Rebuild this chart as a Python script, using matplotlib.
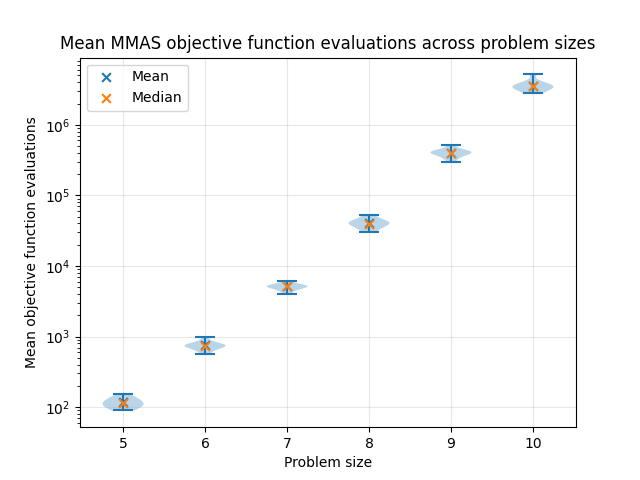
import matplotlib
matplotlib.use("Agg")
import matplotlib.pyplot as plt

sizes = [5, 6, 7, 8, 9, 10]

runs_5 = [90, 95, 100, 104, 108, 112, 116, 120, 125, 130, 136, 143, 153]
runs_6 = [574, 660, 700, 720, 735, 745, 755, 770, 800, 850, 980]
runs_7 = [3945, 4500, 4800, 5000, 5100, 5150, 5200, 5250, 5350, 5600, 6220]
runs_8 = [30300, 34000, 36500, 38500, 40000, 40500, 41500, 43000, 45000, 48000, 52400]
runs_9 = [293000, 350000, 380000, 395000, 403000, 408000, 415000, 425000, 445000, 515000]
runs_10 = [2.79e6, 3.1e6, 3.3e6, 3.4e6, 3.45e6, 3.5e6, 3.6e6, 3.8e6, 4.1e6, 5.17e6]

means = [117, 750, 5120, 40200, 395000, 3.55e6]
medians = [116, 745, 5120, 39900, 393000, 3.5e6]

data = [runs_5, runs_6, runs_7, runs_8, runs_9, runs_10]

fig, ax = plt.subplots(figsize=(6.4, 4.8), dpi=100)

ax.violinplot(data, positions=sizes)

ax.scatter(sizes, means, marker="x", color="C0", s=40, linewidths=1.5, label="Mean", zorder=3)
ax.scatter(sizes, medians, marker="x", color="C1", s=40, linewidths=1.5, label="Median", zorder=4)

ax.set_yscale("log")
ax.set_xticks(sizes)
ax.grid(True, alpha=0.3)
ax.set_xlabel("Problem size")
ax.set_ylabel("Mean objective function evaluations")
ax.set_title("Mean MMAS objective function evaluations across problem sizes")
ax.legend(loc="upper left")

fig.savefig("out.png")
